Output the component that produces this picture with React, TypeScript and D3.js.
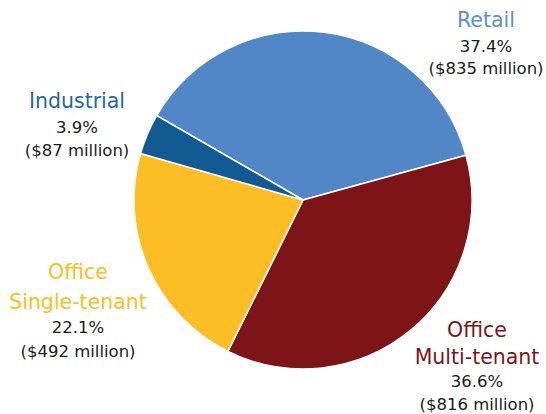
import React from "react";
import * as d3 from "d3";

const categories = ["Retail", "Office Multi-tenant", "Office Single-tenant", "Industrial"];
const percents = [37.4, 36.6, 22.1, 3.9];
const amounts = [835, 816, 492, 87];
const titleLines = [["Retail"], ["Office", "Multi-tenant"], ["Office", "Single-tenant"], ["Industrial"]];

const sliceColors = ["#5187C6", "#7D1518", "#FDBD25", "#115A92"];
const labelColors = ["#5A8FD0", "#7D1518", "#FDBD25", "#1F68A3"];

// label layout (center x, baseline of first line, line gaps)
const labelLayout = [
  { x: 486, y: 27, tg: 28, pg: 25, ag: 47 },
  { x: 477, y: 337, tg: 27, pg: 23, ag: 46 },
  { x: 78, y: 279, tg: 30, pg: 24, ag: 48 },
  { x: 77, y: 108, tg: 28, pg: 25, ag: 48 },
];

export default function App() {
  const width = 546;
  const height = 414;
  const cx = 303;
  const cy = 200;
  const r = 169;

  const pie = d3
    .pie<number>()
    .sort(null)
    .value((d) => d)
    .startAngle((-60 * Math.PI) / 180)
    .endAngle((300 * Math.PI) / 180);
  const arcs = pie(percents);
  const arc = d3.arc<d3.PieArcDatum<number>>().innerRadius(0).outerRadius(r);

  return (
    <svg
      width={width}
      height={height}
      style={{ position: "absolute", left: 0, top: 0, background: "#fff" }}
      fontFamily="'DejaVu Sans', sans-serif"
    >
      <g transform={`translate(${cx},${cy})`}>
        {arcs.map((a, i) => (
          <path key={i} d={arc(a) || ""} fill={sliceColors[i]} stroke="#fff" strokeWidth={1.5} />
        ))}
      </g>
      {categories.map((c, i) => {
        const L = labelLayout[i];
        const lines = titleLines[i];
        const afterTitle = L.y + (lines.length - 1) * L.tg;
        return (
          <g key={c} textAnchor="middle">
            {lines.map((t, j) => (
              <text key={j} x={L.x} y={L.y + j * L.tg} fill={labelColors[i]} fontSize={20.5}>
                {t}
              </text>
            ))}
            <text x={L.x} y={afterTitle + L.pg} fill="#1a1a1a" fontSize={16.5}>
              {d3.format(".1f")(percents[i])}%
            </text>
            <text x={L.x} y={afterTitle + L.ag} fill="#1a1a1a" fontSize={16.5}>
              (${amounts[i]} million)
            </text>
          </g>
        );
      })}
    </svg>
  );
}
